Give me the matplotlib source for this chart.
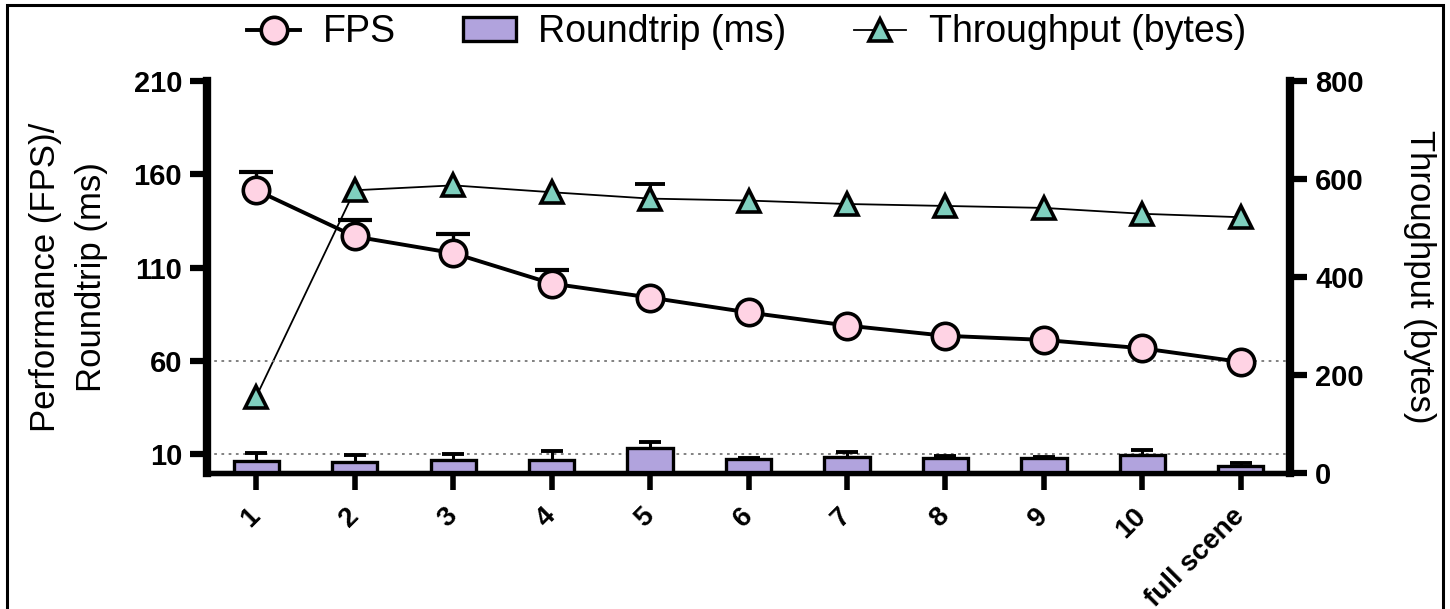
import matplotlib
matplotlib.use("Agg")
import matplotlib.pyplot as plt
from matplotlib.lines import Line2D
from matplotlib.patches import Patch, Rectangle
import numpy as np

plt.rcParams['font.family'] = ['Liberation Sans', 'DejaVu Sans']

# data (0 = error bar hidden behind the marker)
groups = ["1", "2", "3", "4", "5", "6", "7", "8", "9", "10", "full scene"]
fps = [151.5, 126.7, 117.8, 101.5, 94, 86, 79, 73.5, 71.3, 66.8, 59.5]
fps_err = [10, 9, 10.5, 7, 0, 0, 0, 0, 0, 0, 0]
roundtrip = [6.5, 6, 7, 7, 13.4, 7.3, 8.4, 8, 8, 9.4, 3.6]
roundtrip_err = [4.4, 3.5, 3, 5, 3, 1, 2.6, 1.3, 0.6, 3.1, 1.8]
throughput = [156, 577, 587, 573, 560, 556, 549, 545, 541, 529, 522]
throughput_err = [0, 0, 0, 0, 29, 0, 0, 0, 0, 0, 0]

pink = "#FFD3E4"
purple = "#B1A3DD"
teal = "#7FCFBE"

x = np.arange(1, len(groups) + 1)


def up_err(a, xs, ys, errs, cap, lw, z):
    # upper-only error bars: stem + cap, skipped where there is no error
    xs = np.asarray(xs, float)
    ys = np.asarray(ys, float)
    errs = np.asarray(errs, float)
    m = errs > 0
    a.vlines(xs[m], ys[m], ys[m] + errs[m], color="black", lw=lw, zorder=z)
    a.plot(xs[m], ys[m] + errs[m], ls="none", marker="_", ms=cap, mew=lw + 0.6,
           color="black", zorder=z)


fig = plt.figure(figsize=(14.5, 6.09), dpi=100)
ax = fig.add_axes([0.1428, 0.2233, 0.8897 - 0.1428, 0.867 - 0.2233])
ax2 = ax.twinx()

# dotted reference lines
for yv in (10, 60):
    ax.axhline(yv, color="#777777", lw=1.3, ls=(0, (1.5, 2.5)), zorder=1)

# roundtrip bars
ax.bar(x, roundtrip, width=0.46, color=purple, edgecolor="black", lw=2.4, zorder=2)
up_err(ax, x, roundtrip, roundtrip_err, 16, 2.2, 1.9)

# fps line
up_err(ax, x, fps, fps_err, 24, 2.4, 3)
ax.plot(x, fps, color="black", lw=2.8, marker="o", ms=19, mfc=pink,
        mec="black", mew=2.6, zorder=4)

# throughput line on right axis
up_err(ax2, x, throughput, throughput_err, 22, 2.2, 3)
ax2.plot(x, throughput, color="black", lw=1.3, marker="^", ms=16, mfc=teal,
         mec="black", mew=2.6, zorder=4)

ax.set_xlim(0.5, 11.5)
ax.set_ylim(0, 210)
ax2.set_ylim(0, 800)
ax.set_yticks([10, 60, 110, 160, 210])
ax2.set_yticks([0, 200, 400, 600, 800])
ax.set_xticks(x)
ax.set_xticklabels(groups, rotation=45, ha="right", va="center",
                   rotation_mode="anchor", fontsize=20, fontweight="bold")
for lab in ax.get_yticklabels() + ax2.get_yticklabels():
    lab.set_fontsize(21)
    lab.set_fontweight("bold")

for a in (ax, ax2):
    a.spines["top"].set_visible(False)
    a.spines["left"].set_linewidth(6)
    a.spines["right"].set_linewidth(6)
    a.spines["bottom"].set_linewidth(3.8)
ax.patch.set_visible(False)
ax.set_zorder(ax2.get_zorder() + 1)
ax2.spines["left"].set_visible(False)
ax.spines["right"].set_visible(False)

ax.tick_params(axis="y", length=12, width=4.5, pad=6)
ax2.tick_params(axis="y", length=12, width=4.5, pad=6)
ax.tick_params(axis="x", length=12, width=4, pad=16)

ax.set_ylabel("Performance (FPS)/\nRoundtrip (ms)", fontsize=25, labelpad=18,
              linespacing=1.5)
ax2.set_ylabel("Throughput (bytes)", fontsize=25, rotation=270, labelpad=52)

handles = [
    Line2D([], [], color="black", lw=2.8, marker="o", ms=19, mfc=pink, mec="black", mew=2.6),
    Patch(facecolor=purple, edgecolor="black", lw=2.4),
    Line2D([], [], color="black", lw=1.3, marker="^", ms=16, mfc=teal, mec="black", mew=2.6),
]
fig.legend(handles, ["FPS", "Roundtrip (ms)", "Throughput (bytes)"], loc="upper center",
           bbox_to_anchor=(0.515, 1.032), ncol=3, frameon=False, fontsize=27,
           handlelength=1.4, handleheight=0.6, handletextpad=0.6, columnspacing=1.8)

# thin frame around the picture
fig.patches.append(Rectangle((7 / 1450, -0.1), (1443 - 7) / 1450, 1 - 5 / 609 + 0.1,
                             transform=fig.transFigure, fill=False, ec="black", lw=2.2))

fig.savefig("out.png", dpi=100)
